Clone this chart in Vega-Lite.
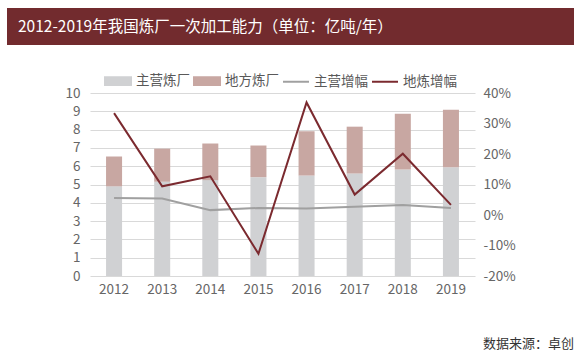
{
  "$schema": "https://vega.github.io/schema/vega-lite/v6.json",
  "background": "white",
  "padding": {"left": 7, "top": 8, "right": 10, "bottom": 0},
  "spacing": 22,
  "resolve": {"scale": {"color": "independent"}, "legend": {"color": "independent"}},
  "config": {
    "font": "Noto Sans CJK SC",
    "axis": {"labelFont": "Noto Sans CJK SC", "labelFontSize": 13.5, "labelColor": "#666666", "ticks": false, "domain": false, "gridColor": "#d9d9d9", "gridWidth": 1},
    "legend": {"labelFont": "Noto Sans CJK SC"},
    "title": {"font": "Noto Sans CJK SC", "fontWeight": "normal"}
  },
  "datasets": {
    "bars": [
      {"year": "2012", "series": "主营炼厂", "value": 4.9},
      {"year": "2012", "series": "地方炼厂", "value": 1.63},
      {"year": "2013", "series": "主营炼厂", "value": 5.15},
      {"year": "2013", "series": "地方炼厂", "value": 1.81},
      {"year": "2014", "series": "主营炼厂", "value": 5.24},
      {"year": "2014", "series": "地方炼厂", "value": 2.0},
      {"year": "2015", "series": "主营炼厂", "value": 5.4},
      {"year": "2015", "series": "地方炼厂", "value": 1.73},
      {"year": "2016", "series": "主营炼厂", "value": 5.49},
      {"year": "2016", "series": "地方炼厂", "value": 2.42},
      {"year": "2017", "series": "主营炼厂", "value": 5.6},
      {"year": "2017", "series": "地方炼厂", "value": 2.56},
      {"year": "2018", "series": "主营炼厂", "value": 5.82},
      {"year": "2018", "series": "地方炼厂", "value": 3.05},
      {"year": "2019", "series": "主营炼厂", "value": 5.94},
      {"year": "2019", "series": "地方炼厂", "value": 3.15}
    ],
    "lines": [
      {"year": "2012", "series": "主营增幅", "pct": 5.6},
      {"year": "2013", "series": "主营增幅", "pct": 5.4},
      {"year": "2014", "series": "主营增幅", "pct": 1.6},
      {"year": "2015", "series": "主营增幅", "pct": 2.3},
      {"year": "2016", "series": "主营增幅", "pct": 2.1},
      {"year": "2017", "series": "主营增幅", "pct": 2.7},
      {"year": "2018", "series": "主营增幅", "pct": 3.3},
      {"year": "2019", "series": "主营增幅", "pct": 2.3},
      {"year": "2012", "series": "地炼增幅", "pct": 33.4},
      {"year": "2013", "series": "地炼增幅", "pct": 9.4},
      {"year": "2014", "series": "地炼增幅", "pct": 12.7},
      {"year": "2015", "series": "地炼增幅", "pct": -12.7},
      {"year": "2016", "series": "地炼增幅", "pct": 36.9},
      {"year": "2017", "series": "地炼增幅", "pct": 6.7},
      {"year": "2018", "series": "地炼增幅", "pct": 20.1},
      {"year": "2019", "series": "地炼增幅", "pct": 3.3}
    ],
    "heading": [
      {"title": "2012-2019年我国炼厂一次加工能力（单位：亿吨/年）", "pos": 0}
    ]
  },
  "vconcat": [
    {
      "width": 567,
      "height": 37,
      "view": {"fill": "#722b2e", "stroke": null},
      "data": {"name": "heading"},
      "mark": {"type": "text", "align": "left", "baseline": "middle", "dx": 11, "color": "#ffffff", "fontSize": 15.5, "font": "Noto Sans CJK SC"},
      "encoding": {
        "x": {"field": "pos", "type": "quantitative", "scale": {"domain": [0, 1]}, "axis": null},
        "text": {"field": "title"}
      }
    },
    {
      "spacing": 0,
      "resolve": {"scale": {"color": "independent"}, "legend": {"color": "independent"}},
      "hconcat": [
        {
          "width": 1,
          "height": 1,
          "view": {"stroke": null},
          "data": {"values": [{"k": 1}]},
          "mark": {"type": "text", "opacity": 0},
          "encoding": {"text": {"value": " "}}
        },
        {
          "width": 385,
          "height": 183,
          "view": {"stroke": null},
          "title": {
            "text": "数据来源：卓创",
            "orient": "bottom",
            "anchor": "end",
            "offset": 42,
            "baseline": "top",
            "fontSize": 13,
            "fontWeight": "normal",
            "color": "#333333"
          },
          "encoding": {
            "x": {
              "field": "year",
              "type": "ordinal",
              "scale": {"paddingInner": 0, "paddingOuter": 0},
              "axis": {"labelAngle": 0, "labelPadding": 6, "title": null}
            }
          },
          "layer": [
            {
              "data": {"name": "bars"},
              "mark": {"type": "bar", "width": {"band": 0.333}},
              "encoding": {
                "y": {
                  "field": "value",
                  "type": "quantitative",
                  "stack": "zero",
                  "scale": {"domain": [0, 10]},
                  "axis": {"values": [0, 1, 2, 3, 4, 5, 6, 7, 8, 9, 10], "grid": true, "minExtent": 82, "labelPadding": 10, "title": null}
                },
                "order": {"field": "series", "sort": "ascending"},
                "color": {
                  "field": "series",
                  "type": "nominal",
                  "scale": {
                    "domain": ["主营炼厂", "地方炼厂", "主营增幅", "地炼增幅"],
                    "range": ["#d0d1d3", "#c8a7a2", "#a0a0a0", "#7b2a2f"]
                  },
                  "legend": {
                    "orient": "none",
                    "legendX": 14,
                    "legendY": -26,
                    "direction": "horizontal",
                    "title": null,
                    "labelFontSize": 13.5,
                    "labelColor": "#595959",
                    "labelOffset": 4,
                    "columnPadding": 0,
                    "symbolSize": 676,
                    "encode": {
                      "symbols": {
                        "update": {
                          "shape": [
                            {"test": "datum.value === '主营增幅' || datum.value === '地炼增幅'", "value": "stroke"},
                            {"value": "M-1,-0.3H1V0.3H-1Z"}
                          ],
                          "fill": [
                            {"test": "datum.value === '主营增幅' || datum.value === '地炼增幅'", "value": "transparent"},
                            {"scale": "color", "field": "value"}
                          ],
                          "stroke": [
                            {"test": "datum.value === '主营增幅' || datum.value === '地炼增幅'", "scale": "color", "field": "value"},
                            {"value": "transparent"}
                          ],
                          "strokeWidth": {"value": 2},
                          "opacity": {"value": 1}
                        }
                      }
                    }
                  }
                }
              }
            },
            {
              "data": {"name": "lines"},
              "mark": {"type": "line", "strokeWidth": 2},
              "encoding": {
                "y": {
                  "field": "pct",
                  "type": "quantitative",
                  "scale": {"domain": [-20, 40]},
                  "axis": {"orient": "right", "values": [-20, -10, 0, 10, 20, 30, 40], "grid": false, "labelExpr": "datum.value + '%'", "labelPadding": 8, "minExtent": 99, "title": null}
                },
                "color": {"field": "series", "type": "nominal"}
              }
            }
          ],
          "resolve": {"scale": {"y": "independent"}}
        }
      ]
    }
  ]
}
